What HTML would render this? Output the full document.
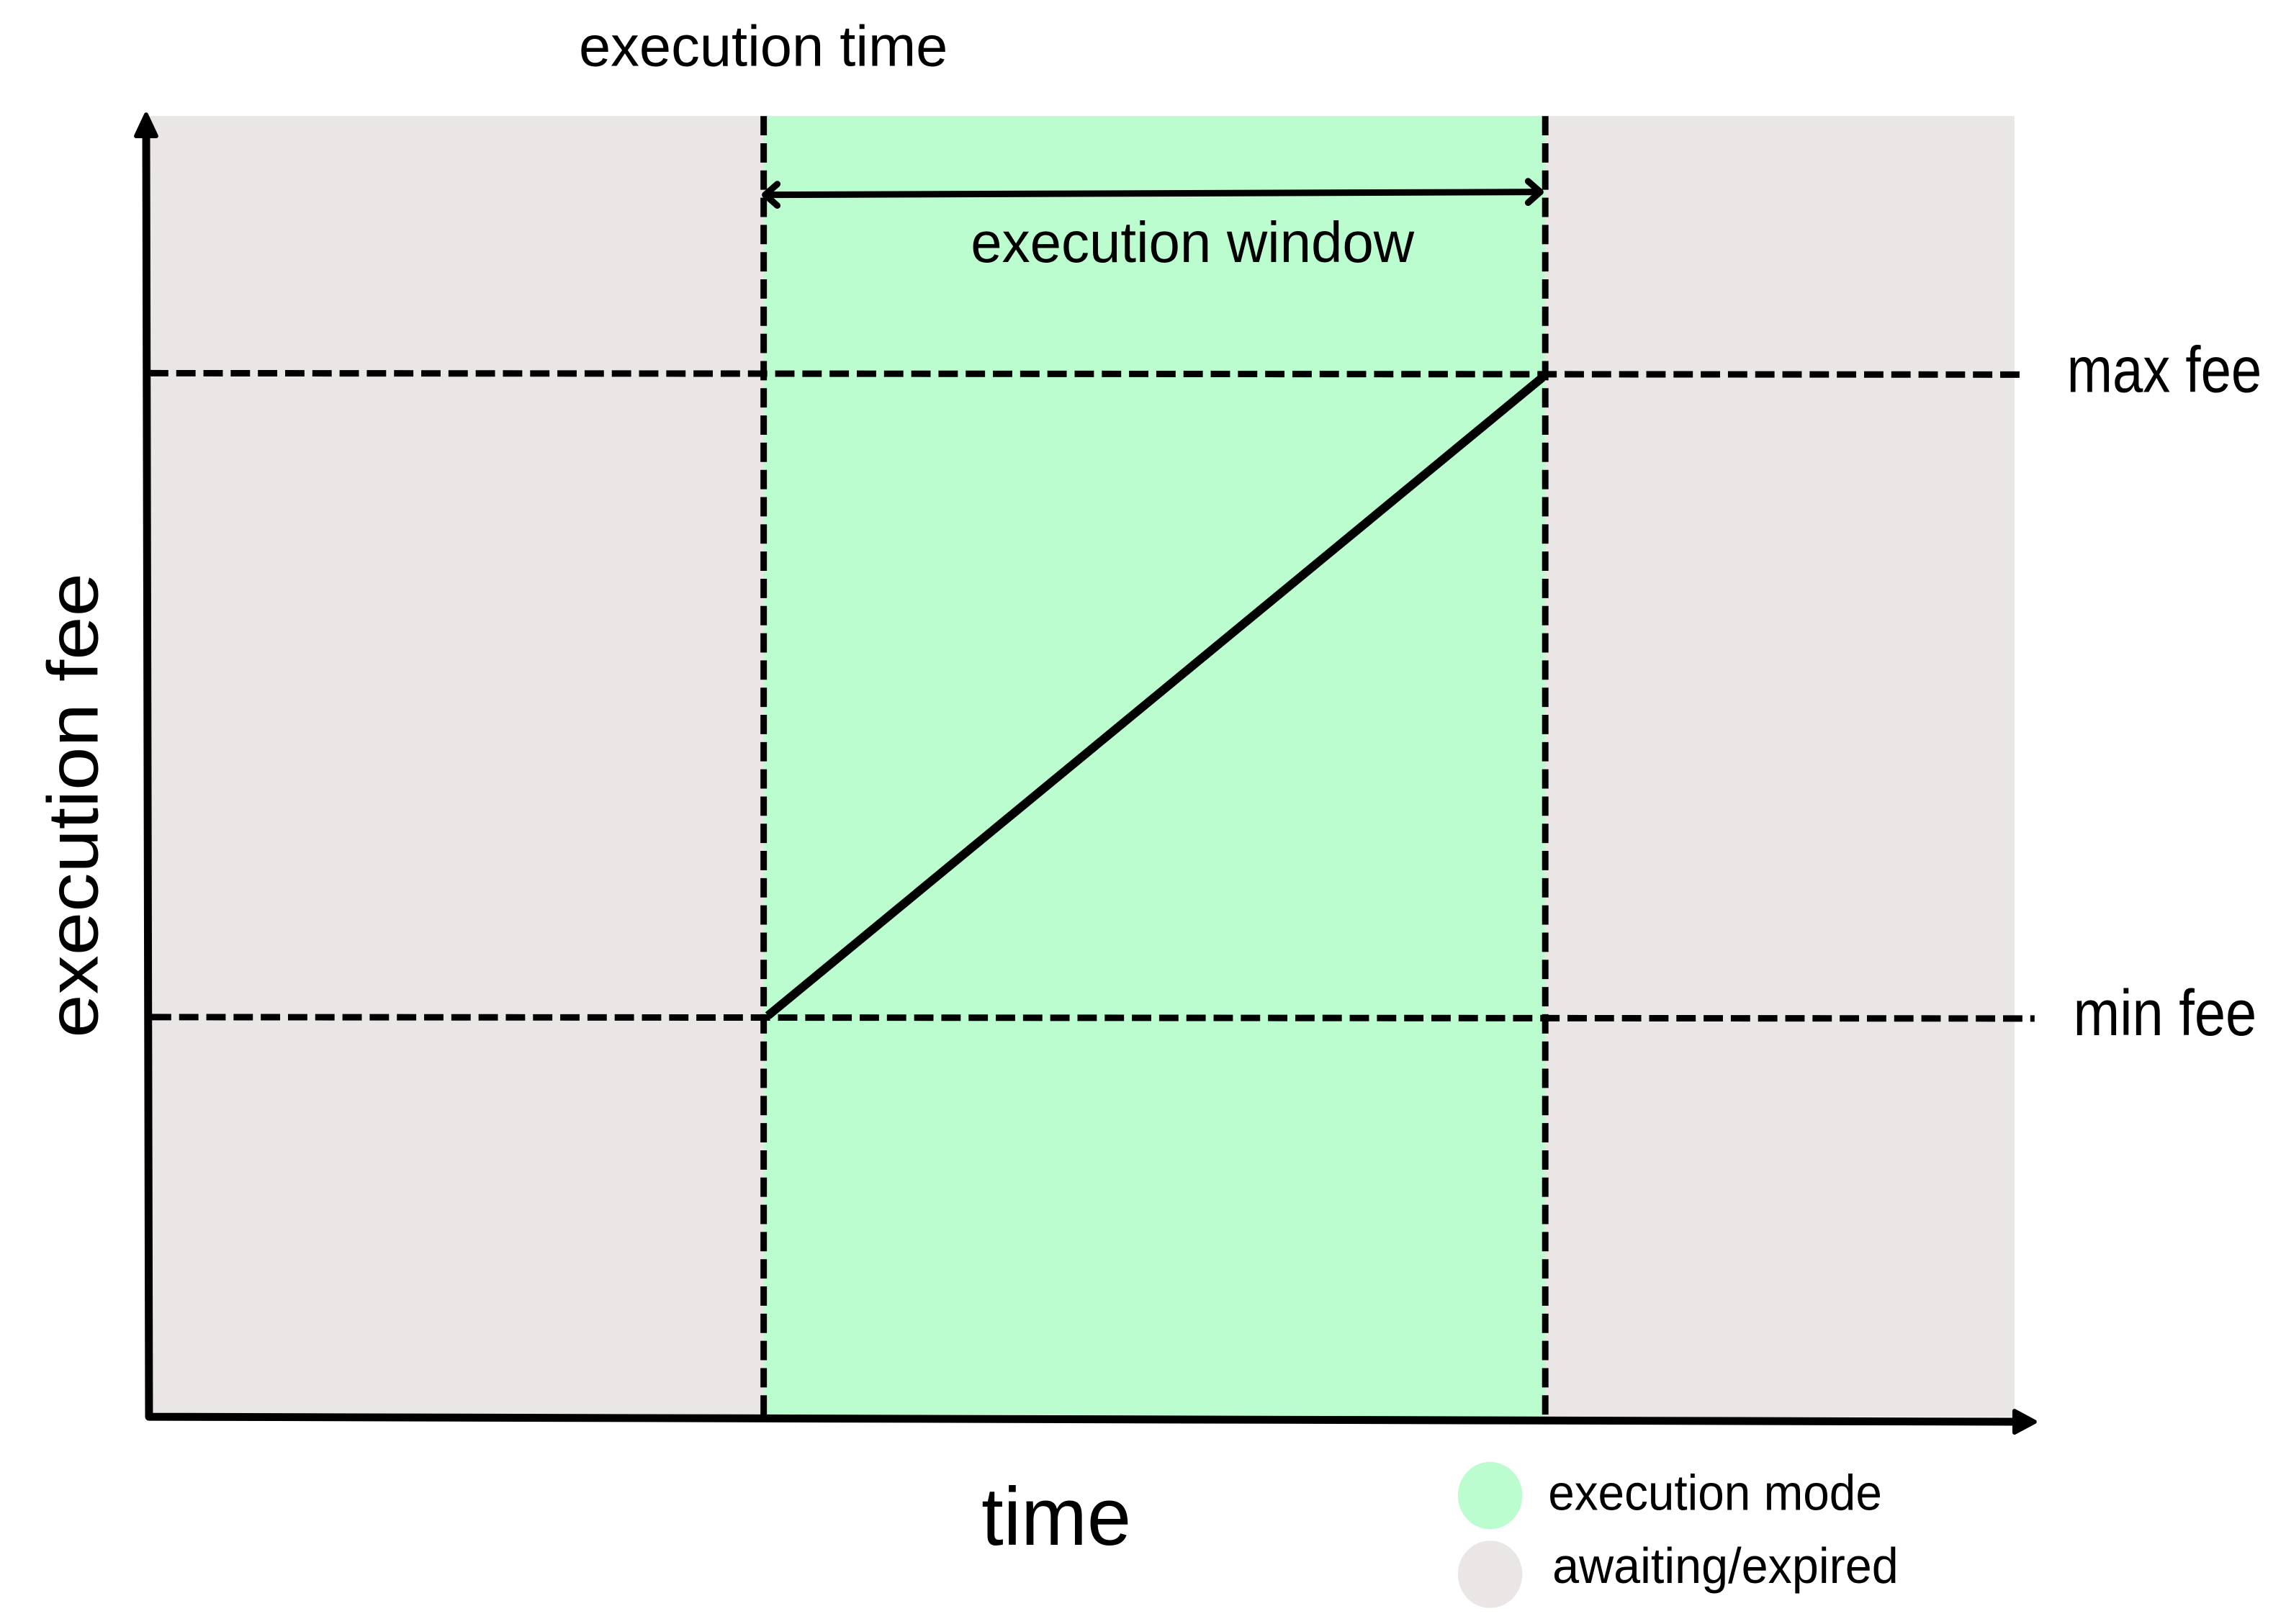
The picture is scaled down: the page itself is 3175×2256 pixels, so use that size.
<!DOCTYPE html>
<html><head><meta charset="utf-8"><style>html,body{margin:0;padding:0;background:#fff}svg{display:block}</style></head>
<body>
<svg width="3175" height="2256" viewBox="0 0 3175 2256" xmlns="http://www.w3.org/2000/svg" font-family="Liberation Sans, sans-serif">
<g transform="scale(0.995)">
<rect x="204" y="162" width="2608" height="1816" fill="#eae6e5"/>
<rect x="1066" y="162" width="1091" height="1816" fill="#bbfdcf"/>
<g stroke="#000" stroke-width="9" stroke-dasharray="27 11" fill="none">
<line x1="1066" y1="162" x2="1066" y2="1978"/>
<line x1="2157" y1="162" x2="2157" y2="1978"/>
<line x1="208" y1="521" x2="2826" y2="523"/>
<line x1="212" y1="1420" x2="2840" y2="1422"/>
</g>
<line x1="1072" y1="1418" x2="2153" y2="527" stroke="#000" stroke-width="12"/>
<g stroke="#000" stroke-width="9" fill="none" stroke-linecap="round" stroke-linejoin="round">
<line x1="1068" y1="272" x2="2150" y2="268"/>
<polyline points="1085,257 1068,272 1085,287"/>
<polyline points="2133,253 2150,268 2133,283"/>
</g>
<g stroke="#000" stroke-width="11" fill="none" stroke-linecap="round" stroke-linejoin="round">
<polyline points="204,172 208,1978 2828,1985"/>
</g>
<polygon points="204,160 190,190 218,190" fill="#000" stroke="#000" stroke-width="6" stroke-linejoin="round"/>
<polygon points="2840,1985 2812,1970 2812,2000" fill="#000" stroke="#000" stroke-width="6" stroke-linejoin="round"/>
<g fill="#000" font-size="80">
<text x="808" y="92" textLength="515" lengthAdjust="spacingAndGlyphs">execution time</text>
<text x="1355" y="366" textLength="619" lengthAdjust="spacingAndGlyphs">execution window</text>
<text x="2885" y="547" font-size="90" textLength="272" lengthAdjust="spacingAndGlyphs">max fee</text>
<text x="2894" y="1445" font-size="90" textLength="256" lengthAdjust="spacingAndGlyphs">min fee</text>
<text x="1370" y="2157" font-size="115" textLength="209" lengthAdjust="spacingAndGlyphs">time</text>
<text transform="translate(136,1449) rotate(-90)" font-size="100" textLength="649" lengthAdjust="spacingAndGlyphs">execution fee</text>
<text x="2161" y="2108" font-size="70" textLength="466" lengthAdjust="spacingAndGlyphs">execution mode</text>
<text x="2167" y="2210" font-size="70" textLength="483" lengthAdjust="spacingAndGlyphs">awaiting/expired</text>
</g>
<ellipse cx="2080" cy="2088" rx="45" ry="47" fill="#bbfdcf"/>
<ellipse cx="2080" cy="2198" rx="45" ry="47" fill="#eae6e5"/>
</g>
</svg>
</body></html>
